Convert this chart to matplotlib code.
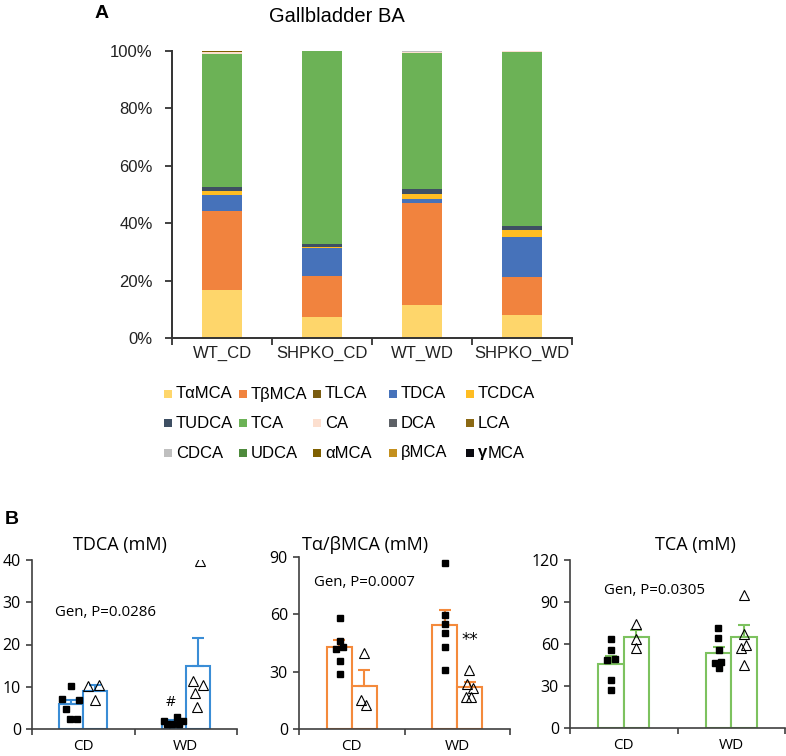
import matplotlib
matplotlib.use("Agg")
import matplotlib.pyplot as plt
from matplotlib.patches import Rectangle
import numpy as np

W, H = 786, 756

# ---------------- Panel A data ----------------
groups = ["WT_CD", "SHPKO_CD", "WT_WD", "SHPKO_WD"]
components = ["TαMCA", "TβMCA", "TLCA", "TDCA", "TCDCA",
              "TUDCA", "TCA", "CA", "DCA", "LCA",
              "CDCA", "UDCA", "αMCA", "βMCA", "γMCA"]
comp_colors = ["#FED66B", "#F1833E", "#7A5C10", "#4672BA", "#FFBD22",
               "#3E4F63", "#6CB256", "#FCDFCF", "#5D6166", "#8B6914",
               "#BFBFBF", "#4E8A3C", "#7F6000", "#C4901E", "#0A0A10"]
# percent of total, rows = components, cols = groups
pct = {
    "TαMCA": [16.7, 7.3, 11.4, 8.1],
    "TβMCA": [27.5, 14.4, 35.6, 13.2],
    "TLCA":  [0.1, 0.05, 0.05, 0.05],
    "TDCA":  [5.7, 9.5, 1.35, 13.75],
    "TCDCA": [1.2, 0.6, 1.9, 2.4],
    "TUDCA": [1.4, 0.9, 1.6, 1.4],
    "TCA":   [46.5, 67.1, 47.5, 60.9],
    "CA":    [0.4, 0.05, 0.3, 0.1],
    "DCA":   [0.05, 0.0, 0.0, 0.0],
    "LCA":   [0.05, 0.0, 0.0, 0.0],
    "CDCA":  [0.05, 0.05, 0.15, 0.0],
    "UDCA":  [0.05, 0.05, 0.0, 0.0],
    "αMCA":  [0.2, 0.0, 0.0, 0.0],
    "βMCA":  [0.15, 0.05, 0.15, 0.1],
    "γMCA":  [0.0, 0.0, 0.0, 0.0],
}
ylabels_A = ["0%", "20%", "40%", "60%", "80%", "100%"]

# ---------------- Panel B data ----------------
diets = ["CD", "WD"]
# TDCA
tdca_mean = [5.9, 9.1, 1.8, 15.0]
tdca_sem = [1.0, 1.4, 0.4, 6.5]
tdca_wt_cd = [10.1, 7.2, 6.9, 4.8, 2.4, 2.4]
tdca_ko_cd = [10.1, 10.3, 6.9]
tdca_wt_wd = [2.0, 2.9, 1.9, 1.1, 1.1, 1.1]
tdca_ko_wd = [39.8, 11.3, 10.5, 8.5, 5.1]
# Talpha/beta MCA
mca_mean = [42.7, 22.5, 54.4, 22.2]
mca_sem = [4.0, 8.5, 7.9, 2.4]
mca_wt_cd = [58.1, 46.2, 41.7, 42.7, 35.8, 29.0]
mca_ko_cd = [39.8, 15.0, 12.7]
mca_wt_wd = [86.7, 59.8, 55.1, 50.2, 42.7, 30.7]
mca_ko_wd = [30.7, 23.7, 21.5, 16.6, 16.6]
# TCA
tca_mean = [45.9, 65.3, 53.7, 64.9]
tca_sem = [5.5, 4.6, 4.5, 8.8]
tca_wt_cd = [63.4, 55.4, 48.7, 49.2, 34.0, 27.3]
tca_ko_cd = [74.4, 63.7, 57.0]
tca_wt_wd = [71.3, 64.4, 55.6, 46.3, 47.0, 43.2]
tca_ko_wd = [95.3, 67.2, 57.0, 59.4, 44.9]

# point horizontal offsets (category units)
offs = {
    "tdca": [[-0.006, -0.085, 0.075, -0.046, -0.013, 0.059], [-0.073, 0.041, 0.0],
             [-0.093, 0.037, 0.086, -0.070, -0.021, 0.047], [0.018, -0.044, 0.047, -0.031, -0.005]],
    "mca": [[0.002, 0.003, -0.032, 0.038, 0.002, 0.002], [-0.006, -0.029, 0.015],
            [0, 0, 0, 0, 0, 0], [-0.005, -0.022, 0.030, -0.032, 0.016]],
    "tca": [[0, 0, -0.036, 0.033, 0, 0], [-0.005, 0.0, 0.0],
            [-0.005, -0.005, 0, -0.036, 0.026, 0], [0, 0, -0.023, 0.023, 0]],
}

fig = plt.figure(figsize=(W / 100, H / 100), dpi=100)


def px_axes(l, r, t, b):
    return fig.add_axes([l / W, 1 - b / H, (r - l) / W, (b - t) / H])


# ---------------- Panel A ----------------
fA = "Liberation Sans"
axA = px_axes(172, 572, 51, 338)
x = np.arange(len(groups))
bottom = np.zeros(len(groups))
for comp, col in zip(components, comp_colors):
    vals = np.array(pct[comp]) / 100.0
    axA.bar(x, vals, width=0.4, bottom=bottom, color=col, edgecolor="none")
    bottom += vals
axA.set_xlim(-0.5, 3.5)
axA.set_ylim(0, 1)
axA.set_yticks(np.linspace(0, 1, 6))
axA.set_yticklabels(ylabels_A, fontfamily=fA, fontsize=12, color="#222222")
axA.set_xticks(x)
axA.set_xticklabels(groups, fontfamily=fA, fontsize=12, color="#222222")
axA.set_xticks(np.arange(-0.5, 4.0, 1.0), minor=True)
axA.tick_params(axis="x", which="major", length=0, pad=6)
axA.tick_params(axis="x", which="minor", length=5, width=1.3, color="#333333", direction="out")
axA.tick_params(axis="y", length=5, width=1.3, color="#333333", direction="out", pad=9)
for s in ["top", "right"]:
    axA.spines[s].set_visible(False)
for s in ["left", "bottom"]:
    axA.spines[s].set_linewidth(1.4)
    axA.spines[s].set_color("#333333")

fig.text(337 / W, 1 - 17 / H, "Gallbladder BA", ha="center", va="center",
         fontfamily=fA, fontsize=14.5)
fig.text(102 / W, 1 - 14 / H, "A", ha="center", va="center",
         fontfamily=fA, fontsize=14, fontweight="bold")

# legend (manual, 3 rows x 5 cols)
col_x = [168, 243, 317, 393, 470]
row_y = [394, 423, 453]
for i, (comp, col) in enumerate(zip(components, comp_colors)):
    r, c = divmod(i, 5)
    mx, my = col_x[c], row_y[r]
    fig.patches.append(Rectangle(((mx - 4) / W, 1 - (my + 4) / H), 8 / W, 8 / H,
                                 transform=fig.transFigure, facecolor=col,
                                 edgecolor="none"))
    if comp == "γMCA":
        fig.text((mx + 8) / W, 1 - my / H, "γ", ha="left", va="center",
                 fontfamily=fA, fontweight="bold", fontsize=12)
        fig.text((mx + 17.5) / W, 1 - my / H, "MCA", ha="left", va="center",
                 fontfamily=fA, fontsize=12)
    else:
        fig.text((mx + 8) / W, 1 - my / H, comp, ha="left", va="center",
                 fontfamily=fA, fontsize=12)

# ---------------- Panel B ----------------
fB = "Open Sans"
panels = [
    dict(rect=(32, 237, 560, 729), ymax=40, step=10, color="#3A8DD6", mean=tdca_mean, sem=tdca_sem,
         pts=[tdca_wt_cd, tdca_ko_cd, tdca_wt_wd, tdca_ko_wd], off=offs["tdca"],
         title="TDCA (mM)", tx=120, gen="Gen, P=0.0286", gx=55, gy=612),
    dict(rect=(299, 510, 557, 729), ymax=90, step=30, color="#F48A3C", mean=mca_mean, sem=mca_sem,
         pts=[mca_wt_cd, mca_ko_cd, mca_wt_wd, mca_ko_wd], off=offs["mca"],
         title="Tα/βMCA (mM)", tx=365, gen="Gen, P=0.0007", gx=314, gy=583),
    dict(rect=(570, 785, 560, 728), ymax=120, step=30, color="#7DC25F", mean=tca_mean, sem=tca_sem,
         pts=[tca_wt_cd, tca_ko_cd, tca_wt_wd, tca_ko_wd], off=offs["tca"],
         title="TCA (mM)", tx=695, gen="Gen, P=0.0305", gx=604, gy=591),
]
bw = 0.235
bar_x = [0.5 - bw / 2, 0.5 + bw / 2, 1.5 - bw / 2, 1.5 + bw / 2]
for p in panels:
    l, r, t, b = p["rect"]
    ax = px_axes(l, r, t, b)
    ax.bar(bar_x, p["mean"], width=bw, facecolor="white", edgecolor=p["color"],
           linewidth=1.5, zorder=2)
    for xi, m, s in zip(bar_x, p["mean"], p["sem"]):
        ax.errorbar([xi], [m], yerr=[[0], [s]], fmt="none", ecolor=p["color"],
                    elinewidth=1.5, capsize=4.5, capthick=1.5, zorder=3)
    for k, (vals, of) in enumerate(zip(p["pts"], p["off"])):
        xs = bar_x[k] + np.array(of)
        if k % 2 == 0:
            ax.plot(xs, vals, "s", color="black", ms=4.2, zorder=4, linestyle="none")
        else:
            ax.plot(xs, vals, "^", mfc="none", mec="black", mew=0.8, ms=6.5,
                    zorder=4, linestyle="none")
    ax.set_xlim(0, 2)
    ax.set_ylim(0, p["ymax"])
    ax.set_yticks(np.arange(0, p["ymax"] + 1, p["step"]))
    ax.set_yticklabels([str(v) for v in np.arange(0, p["ymax"] + 1, p["step"])],
                       fontfamily=fB, fontsize=11.5)
    ax.set_xticks([0.5, 1.5])
    ax.set_xticklabels(diets, fontfamily=fB, fontsize=11)
    ax.set_xticks([0, 1, 2], minor=True)
    ax.tick_params(axis="x", which="major", length=0, pad=7)
    ax.tick_params(axis="x", which="minor", length=4, width=1.2, color="#404040")
    ax.tick_params(axis="y", length=4, width=1.2, color="#404040", pad=4)
    for s in ["top", "right"]:
        ax.spines[s].set_visible(False)
    for s in ["left", "bottom"]:
        ax.spines[s].set_linewidth(1.2)
        ax.spines[s].set_color("#404040")
    ax.patch.set_alpha(0)
    fig.text(p["tx"] / W, 1 - 545 / H, p["title"], ha="center", va="center",
             fontfamily=fB, fontsize=13)
    fig.text(p["gx"] / W, 1 - p["gy"] / H, p["gen"], ha="left", va="center",
             fontfamily=fB, fontsize=10.8)

fig.text(171 / W, 1 - 702 / H, "#", ha="center", va="center", fontfamily=fB, fontsize=11)
fig.text(470 / W, 1 - 640 / H, "**", ha="center", va="center", fontfamily="DejaVu Sans",
         fontsize=12)
fig.text(12 / W, 1 - 520 / H, "B", ha="center", va="center", fontfamily=fA,
         fontsize=14, fontweight="bold")

fig.savefig("out.png", dpi=100)
